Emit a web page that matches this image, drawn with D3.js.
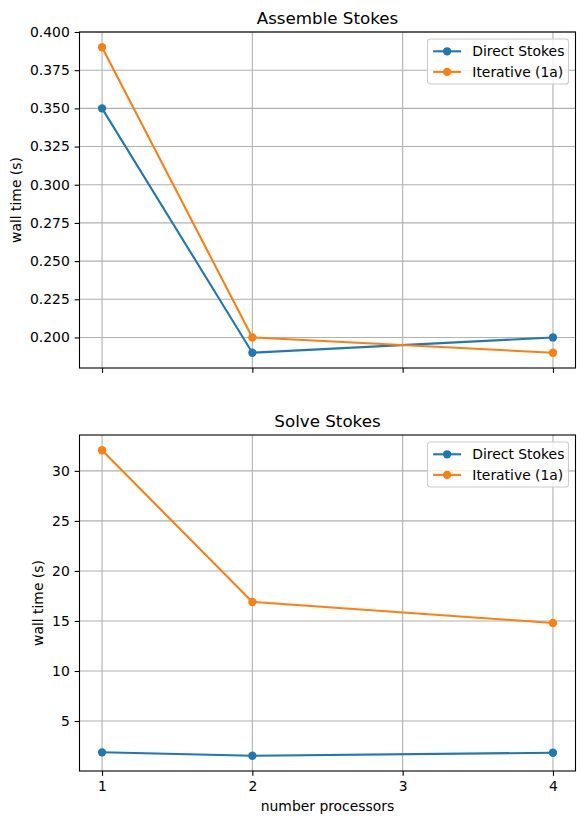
<!DOCTYPE html>
<html lang="en">
<head>
<meta charset="utf-8">
<title>Stokes timings</title>
<script src="https://d3js.org/d3.v7.min.js"></script>
<style>
  body { margin: 0; background: #fff; }
  svg text { font-family: 'DejaVu Sans', sans-serif; fill: #000; }
  .grid line { stroke: #b0b0b0; stroke-width: 1.1px; }
  .axis path, .axis line { stroke: #000; stroke-width: 1.1px; }
</style>
</head>
<body>
<svg id="chart" width="584" height="824"></svg>
<script>
// data
var procs = [1, 2, 4];
var xTicks = [1, 2, 3, 4];
var seriesNames = ["Direct Stokes", "Iterative (1a)"];
var colors = ["#1f77b4", "#ff7f0e"];

var assembleDirect = [0.350, 0.190, 0.200];
var assembleIter = [0.390, 0.200, 0.190];
var assembleTicks = [0.200, 0.225, 0.250, 0.275, 0.300, 0.325, 0.350, 0.375, 0.400];

var solveDirect = [1.87, 1.53, 1.83];
var solveIter = [32.06, 16.9, 14.8];
var solveTicks = [5, 10, 15, 20, 25, 30];

var svg = d3.select("#chart");
var fs = 13.9;
var left = 79.5, right = 575.5;

var x = d3.scaleLinear().domain([0.85, 4.15]).range([left, right]);

function padDomain(vals) {
  var lo = d3.min(vals), hi = d3.max(vals), r = hi - lo;
  return [lo - 0.05 * r, hi + 0.05 * r];
}

function drawPanel(opt) {
  var g = svg.append("g");
  var y = d3.scaleLinear().domain(padDomain(opt.series[0].concat(opt.series[1])))
      .range([opt.bottom, opt.top]);

  // grid
  var grid = g.append("g").attr("class", "grid");
  grid.selectAll(".gx").data(xTicks).enter().append("line")
      .attr("x1", function(d) { return x(d); }).attr("x2", function(d) { return x(d); })
      .attr("y1", opt.top).attr("y2", opt.bottom);
  grid.selectAll(".gy").data(opt.ticks).enter().append("line")
      .attr("y1", function(d) { return y(d); }).attr("y2", function(d) { return y(d); })
      .attr("x1", left).attr("x2", right);

  // axes
  var xAxis = d3.axisBottom(x).tickValues(xTicks).tickSize(4.86).tickPadding(4.86)
      .tickFormat(opt.showX ? d3.format("d") : "");
  var gx = g.append("g").attr("class", "axis")
      .attr("transform", "translate(0," + opt.bottom + ")").call(xAxis);
  gx.select(".domain").remove();
  gx.selectAll("text").style("font-size", fs + "px");

  var yAxis = d3.axisLeft(y).tickValues(opt.ticks).tickSize(4.86).tickPadding(4.86)
      .tickFormat(d3.format(opt.fmt));
  var gy = g.append("g").attr("class", "axis")
      .attr("transform", "translate(" + left + ",0)").call(yAxis);
  gy.select(".domain").remove();
  gy.selectAll("text").style("font-size", fs + "px");

  // series
  opt.series.forEach(function(vals, i) {
    var pts = procs.map(function(p, j) { return [p, vals[j]]; });
    var line = d3.line().x(function(d) { return x(d[0]); }).y(function(d) { return y(d[1]); });
    g.append("path").datum(pts).attr("d", line)
        .attr("fill", "none").attr("stroke", colors[i]).attr("stroke-width", 2.08);
    g.selectAll(".m" + i).data(pts).enter().append("circle")
        .attr("cx", function(d) { return x(d[0]); }).attr("cy", function(d) { return y(d[1]); })
        .attr("r", 4.17).attr("fill", colors[i]);
  });

  // frame
  g.append("rect").attr("x", left).attr("y", opt.top)
      .attr("width", right - left).attr("height", opt.bottom - opt.top)
      .attr("fill", "none").attr("stroke", "#000").attr("stroke-width", 1.1);

  // title
  g.append("text").attr("x", (left + right) / 2).attr("y", opt.top - 8.3)
      .attr("text-anchor", "middle").style("font-size", "16.7px").text(opt.title);

  // y label
  var bb = gy.node().getBBox();
  var lx = left + bb.x - 5.6 - 3.4;
  var ly = (opt.top + opt.bottom) / 2;
  g.append("text").attr("transform", "translate(" + lx + "," + ly + ")rotate(-90)")
      .attr("text-anchor", "middle").style("font-size", fs + "px").text("wall time (s)");

  // legend
  var lw = 141, lh = 45;
  var lgx = right - 7 - lw, lgy = opt.top + 7;
  var lg = g.append("g").attr("transform", "translate(" + lgx + "," + lgy + ")");
  lg.append("rect").attr("width", lw).attr("height", lh).attr("rx", 2.8)
      .attr("fill", "#fff").attr("fill-opacity", 0.8)
      .attr("stroke", "#cccccc").attr("stroke-width", 1.1);
  seriesNames.forEach(function(name, i) {
    var ry = 12.3 + i * 20.6;
    lg.append("line").attr("x1", 5.6).attr("x2", 33.6).attr("y1", ry).attr("y2", ry)
        .attr("stroke", colors[i]).attr("stroke-width", 2.08);
    lg.append("circle").attr("cx", 19.6).attr("cy", ry).attr("r", 4.17).attr("fill", colors[i]);
    lg.append("text").attr("x", 44.8).attr("y", ry + 5).style("font-size", fs + "px").text(name);
  });

  return g;
}

drawPanel({ top: 32, bottom: 368, title: "Assemble Stokes", ticks: assembleTicks, fmt: ".3f",
  series: [assembleDirect, assembleIter], showX: false });
drawPanel({ top: 435, bottom: 771, title: "Solve Stokes", ticks: solveTicks, fmt: "d",
  series: [solveDirect, solveIter], showX: true });

svg.append("text").attr("x", (left + right) / 2).attr("y", 811)
    .attr("text-anchor", "middle").style("font-size", fs + "px").text("number processors");
</script>
</body>
</html>
